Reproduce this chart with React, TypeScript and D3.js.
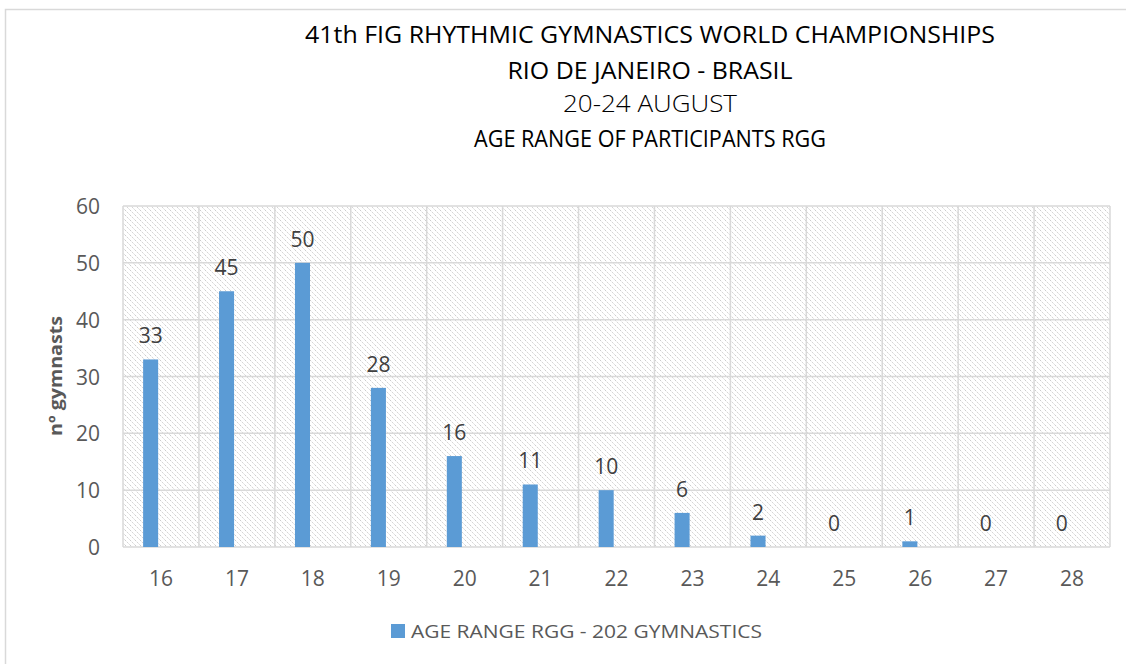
import React from "react";
import * as d3 from "d3";

const titleLines = [
  "41th FIG RHYTHMIC GYMNASTICS WORLD CHAMPIONSHIPS",
  "RIO DE JANEIRO - BRASIL",
  "20-24 AUGUST",
  "AGE RANGE OF PARTICIPANTS RGG",
];
const ages = ["16", "17", "18", "19", "20", "21", "22", "23", "24", "25", "26", "27", "28"];
const counts = [33, 45, 50, 28, 16, 11, 10, 6, 2, 0, 1, 0, 0];
const yTicks = [0, 10, 20, 30, 40, 50, 60];
const seriesName = "AGE RANGE RGG - 202 GYMNASTICS";
const yTitle = "nº gymnasts";

const W = 1126;
const H = 664;
const plot = { left: 123, right: 1110, top: 206, bottom: 547 };
const FONT = "'Open Sans', 'Noto Sans', sans-serif";
const BAR = "#5B9BD5";
const GRID = "#d9d9d9";

export default function App() {
  const x = d3.scaleBand<string>().domain(ages).range([plot.left, plot.right]).padding(0);
  const y = d3.scaleLinear().domain([0, 60]).range([plot.bottom, plot.top]);
  const bw = x.bandwidth();

  const titleY = [43, 79, 112, 147];
  const titleW = [690, 285, 174, 352];
  const titleWeight = [400, 400, 300, 400];

  return (
    <svg
      width={W}
      height={H}
      style={{ position: "absolute", left: 0, top: 0, display: "block", background: "#fff" }}
    >
      <defs>
        <pattern id="hatch" patternUnits="userSpaceOnUse" width="5" height="5">
          <path
            d="M0,0 L5,5 M-1,4 L1,6 M4,-1 L6,1"
            stroke="#cccccc"
            strokeWidth="1"
            strokeDasharray="1.5,1"
          />
        </pattern>
      </defs>
      <rect x={5.5} y={9.5} width={1200} height={800} fill="#fff" stroke={GRID} strokeWidth={1.5} />

      {titleLines.map((t, i) => (
        <text
          key={i}
          x={650}
          y={titleY[i]}
          textAnchor="middle"
          fontFamily={FONT}
          fontSize={24}
          fontWeight={titleWeight[i]}
          fill="#000"
          textLength={titleW[i]}
          lengthAdjust="spacingAndGlyphs"
        >
          {t}
        </text>
      ))}

      {/* plot area */}
      <rect
        x={plot.left}
        y={plot.top}
        width={plot.right - plot.left}
        height={plot.bottom - plot.top}
        fill="url(#hatch)"
      />
      {yTicks.map((t) => (
        <line key={"h" + t} x1={plot.left} x2={plot.right} y1={y(t)} y2={y(t)} stroke={GRID} strokeWidth={1.5} />
      ))}
      {ages.map((a) => (
        <line key={"v" + a} x1={x(a)!} x2={x(a)!} y1={plot.top} y2={plot.bottom} stroke={GRID} strokeWidth={1.5} />
      ))}
      <line x1={plot.right} x2={plot.right} y1={plot.top} y2={plot.bottom} stroke={GRID} strokeWidth={1.5} />

      {/* bars */}
      {ages.map((a, i) => (
        <rect
          key={"b" + a}
          x={x(a)! + bw * 0.265}
          y={y(counts[i])}
          width={bw * 0.198}
          height={plot.bottom - y(counts[i])}
          fill={BAR}
        />
      ))}
      {/* data labels */}
      {ages.map((a, i) => (
        <text
          key={"l" + a}
          x={x(a)! + bw * 0.265 + (bw * 0.198) / 2}
          y={y(counts[i]) - 16}
          textAnchor="middle"
          fontFamily={FONT}
          fontSize={21}
          fill="#404040"
        >
          {counts[i]}
        </text>
      ))}

      {/* y ticks */}
      {yTicks.map((t) => (
        <text
          key={"yt" + t}
          x={100}
          y={y(t) + 8}
          textAnchor="end"
          fontFamily={FONT}
          fontSize={21}
          fill="#595959"
        >
          {t}
        </text>
      ))}
      {/* x ticks */}
      {ages.map((a) => (
        <text
          key={"xt" + a}
          x={x(a)! + bw / 2}
          y={586}
          textAnchor="middle"
          fontFamily={FONT}
          fontSize={21}
          fill="#595959"
        >
          {a}
        </text>
      ))}

      {/* y title */}
      <text
        transform={`translate(62,376) rotate(-90)`}
        textAnchor="middle"
        fontFamily={FONT}
        fontSize={18}
        fontWeight={700}
        fill="#595959"
        textLength={120}
        lengthAdjust="spacingAndGlyphs"
      >
        {yTitle}
      </text>

      {/* legend */}
      <rect x={391} y={624} width={14} height={14} fill={BAR} />
      <text
        x={411}
        y={638}
        fontFamily={FONT}
        fontSize={19}
        fill="#595959"
        textLength={351}
        lengthAdjust="spacingAndGlyphs"
      >
        {seriesName}
      </text>
    </svg>
  );
}
